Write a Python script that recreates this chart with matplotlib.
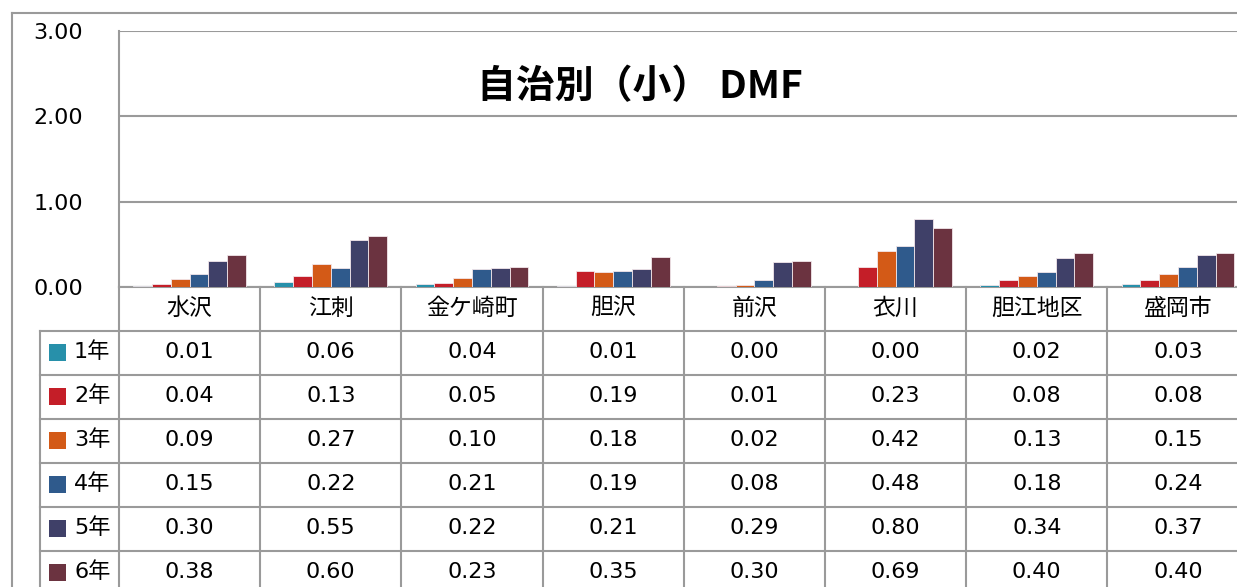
import matplotlib
matplotlib.use('Agg')
import matplotlib.pyplot as plt
from matplotlib.lines import Line2D
from matplotlib.patches import Rectangle
from matplotlib.transforms import blended_transform_factory

# data
areas = ['水沢', '江刺', '金ケ崎町', '胆沢', '前沢', '衣川', '胆江地区', '盛岡市']
grades = ['1年', '2年', '3年', '4年', '5年', '6年']
g1 = [0.01, 0.06, 0.04, 0.01, 0.00, 0.00, 0.02, 0.03]
g2 = [0.04, 0.13, 0.05, 0.19, 0.01, 0.23, 0.08, 0.08]
g3 = [0.09, 0.27, 0.10, 0.18, 0.02, 0.42, 0.13, 0.15]
g4 = [0.15, 0.22, 0.21, 0.19, 0.08, 0.48, 0.18, 0.24]
g5 = [0.30, 0.55, 0.22, 0.21, 0.29, 0.80, 0.34, 0.37]
g6 = [0.38, 0.60, 0.23, 0.35, 0.30, 0.69, 0.40, 0.40]
series = [g1, g2, g3, g4, g5, g6]
colors = ['#2790AA', '#C41E28', '#D35A17', '#2F5A8C', '#3F4068', '#6B3340']

cjk = ['Noto Sans CJK JP', 'DejaVu Sans']
mixed = ['DejaVu Sans', 'Noto Sans CJK JP']
grey = '#9a9a9a'

W, H = 1237, 587
fig = plt.figure(figsize=(W / 100, H / 100), dpi=100)


def fx(px):
    return px / W


def fy(py):
    return 1 - py / H


left, right, top, base = 119, 1248.6, 31, 287
ax = fig.add_axes([fx(left), fy(base), fx(right) - fx(left), fy(top) - fy(base)])

n = len(series)
bw = 0.8 / n
for j, vals in enumerate(series):
    xs = [i + 0.1 + bw * (j + 0.5) for i in range(len(areas))]
    ax.bar(xs, vals, bw, color=colors[j], edgecolor='#f2e6ea', linewidth=0.6, zorder=3)

ax.set_xlim(0, len(areas))
ax.set_ylim(0, 3)
ax.set_yticks([0, 1, 2, 3])
ax.set_yticklabels(['0.00', '1.00', '2.00', '3.00'], fontsize=16, family='DejaVu Sans')
ax.set_xticks([])
ax.tick_params(axis='y', length=0, pad=26)
for lab in ax.get_yticklabels():
    lab.set_y(lab.get_position()[1])
ax.yaxis.grid(True, color=grey, linewidth=1.5)
for s in ['top', 'right']:
    ax.spines[s].set_visible(False)
for s in ['left', 'bottom']:
    ax.spines[s].set_color(grey)
    ax.spines[s].set_linewidth(1.5)

fig.text(fx(640), fy(87), '自治別（小） DMF', ha='center', va='center',
         fontsize=28, fontweight='bold', family=cjk)

# table below the chart
tr = blended_transform_factory(ax.transData, fig.transFigure)
row0, rh = 331, 44
for i in range(len(areas) + 1):
    fig.add_artist(Line2D([i, i], [fy(base), 0], transform=tr, color=grey, lw=1.5, clip_on=False))
for k in range(n):
    yl = row0 + rh * k
    fig.add_artist(Line2D([fx(40), 1], [fy(yl), fy(yl)], transform=fig.transFigure, color=grey, lw=1.5))
fig.add_artist(Line2D([fx(40), fx(40)], [fy(row0), 0], transform=fig.transFigure, color=grey, lw=1.5))

for i, name in enumerate(areas):
    fig.text(i + 0.5, fy(308), name, transform=tr, ha='center', va='center', fontsize=16.5, family=cjk)

for k, vals in enumerate(series):
    yc = row0 + rh * k + 21
    for i, v in enumerate(vals):
        fig.text(i + 0.5, fy(yc), f'{v:.2f}', transform=tr, ha='center', va='center',
                 fontsize=16, family='DejaVu Sans')
    fig.add_artist(Rectangle((fx(49), fy(yc + 8.5)), fx(17), 17 / H, transform=fig.transFigure,
                             facecolor=colors[k], edgecolor='none'))
    fig.text(fx(74), fy(yc), grades[k], ha='left', va='center', fontsize=16, family=mixed)

# outer frame
fig.add_artist(Line2D([fx(12), fx(12)], [fy(13), 0], transform=fig.transFigure, color=grey, lw=1.5))
fig.add_artist(Line2D([fx(12), 1], [fy(13), fy(13)], transform=fig.transFigure, color=grey, lw=1.5))

fig.savefig('out.png', dpi=100)
